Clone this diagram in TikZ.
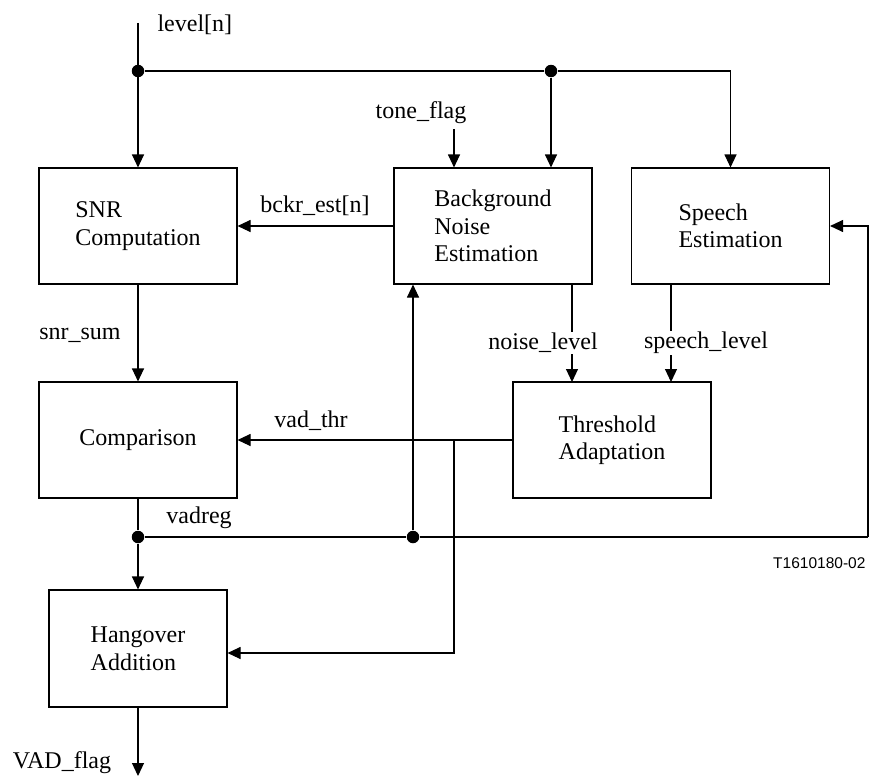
\documentclass[tikz,border=0pt]{standalone}
\usepackage{fontspec}
\setmainfont{Liberation Serif}
\newfontfamily\figsans{Liberation Sans}
\usetikzlibrary{arrows.meta}

\begin{document}
\begin{tikzpicture}[x=1pt,y=-1pt,line width=1.1pt,
    font=\fontsize{24}{27.5}\selectfont,
    arr/.style={-{Triangle[length=13pt,width=12pt]}},
    junc/.style={circle,fill,inner sep=0pt,minimum size=12.5pt}]

        \useasboundingbox (0,0) rectangle (869,776);

        \begin{scope}[every node/.style={draw, align=left, minimum width=198pt, minimum height=116pt}]
          \node (snr)    at (138,226)   {SNR\\Computation};
          \node (bne)    at (493,226)   {Background\\Noise\\Estimation};
          \node (speech) at (730.5,226) {Speech\\Estimation};
          \node (cmp)    at (138,440)   {Comparison};
          \node (thr)    at (612,440)   {Threshold\\Adaptation};
          \node[minimum width=178pt, minimum height=117pt] (hang) at (138,648.5) {Hangover\\Addition};
        \end{scope}

        % junctions and free ends
        \node[junc] (j1) at (138,71) {};
        \node[junc] (j2) at (551,71) {};
        \node[junc] (j3) at (138,537) {};
        \node[junc] (j4) at (413,537) {};
        \coordinate (in)   at (138,23);
        \coordinate (tone) at (454,129);
        \coordinate (split) at (454,440);
        \coordinate (hin)  at (454,653);
        \coordinate (fb)   at (868,537);
        \coordinate (out)  at (138,776);

        \begin{scope}[inner sep=2pt]
          \node[anchor=west] (lvl) at (155,25)  {level[n]};
          \node (tonelbl)  at (421,113) {tone\_flag};
          \node (bckrlbl)  at (315,206) {bckr\_est[n]};
          \node (snrlbl)   at (80,335)  {snr\_sum};
          \node (vadlbl)   at (311,421) {vad\_thr};
          \node (reglbl)   at (199,518) {vadreg};
          \node (flaglbl)  at (62,763)  {VAD\_flag};
          \node[anchor=east, font=\figsans\fontsize{15.5}{18}\selectfont] (fig) at (868,563) {T1610180-02};
        \end{scope}

        % input distribution
        \draw[arr] (in) -- (snr.north);
        \draw (j1) -- (j2);
        \draw[arr] (j2) -- (j2 |- bne.north);
        \draw[arr] (j2) -| (speech.north);
        \draw[arr] (tone) -- (tone |- bne.north);

        % main signal path
        \draw[arr] (bne.west) -- (snr.east);
        \draw[arr] (snr.south) -- (cmp.north);
        \draw[arr] (thr.west) -- (cmp.east);
        \draw (cmp.south) -- (j3);
        \draw[arr] (j3) -- (hang.north);
        \draw[arr] (hang.south) -- (out);

        % levels into threshold
        \draw[arr] (572,284) -- (572,382);
        \draw[arr] (671,284) -- (671,382);
        \node[fill=white, inner sep=1pt] (noiselbl)  at (543,343) {noise\_level};
        \node[fill=white, inner sep=1pt] (speechlbl) at (706,343) {speech\_level};

        % threshold to hangover
        \draw[arr] (split) -- (hin) -- (hin -| hang.east);

        % vadreg feedback
        \draw (j3) -- (j4) -- (fb);
        \draw[arr] (j4) -- (j4 |- bne.south);
        \draw[arr] (fb) |- (speech.east);

\end{tikzpicture}
\end{document}
